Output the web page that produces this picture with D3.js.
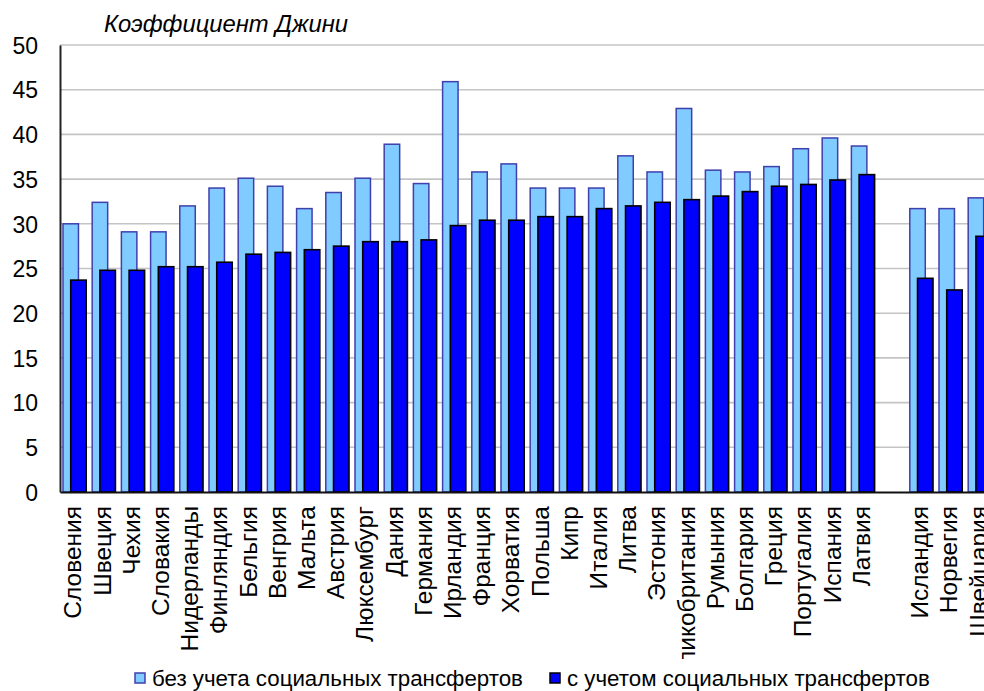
<!DOCTYPE html>
<html>
<head>
<meta charset="utf-8">
<script src="https://cdn.jsdelivr.net/npm/d3@7"></script>
<style>
  body { margin: 0; background: #fff; }
  text { font-family: "Liberation Sans", Arial, sans-serif; fill: #000; }
</style>
</head>
<body>
<svg id="chart" width="984" height="691"></svg>
<script>
// страны ЕС (по возрастанию коэффициента с учетом трансфертов)
const euCountries = ["Словения", "Швеция", "Чехия", "Словакия", "Нидерланды", "Финляндия",
    "Бельгия", "Венгрия", "Мальта", "Австрия", "Люксембург", "Дания", "Германия", "Ирландия",
    "Франция", "Хорватия", "Польша", "Кипр", "Италия", "Литва", "Эстония", "Великобритания",
    "Румыния", "Болгария", "Греция", "Португалия", "Испания", "Латвия"]
// страны вне ЕС, отделены пустым местом
const otherCountries = ["Исландия", "Норвегия", "Швейцария"]

// без учета социальных трансфертов
const beforeEU = [30.0, 32.4, 29.1, 29.1, 32.0, 34.0, 35.1, 34.2, 31.7, 33.5, 35.1, 38.9, 34.5, 45.9,
    35.8, 36.7, 34.0, 34.0, 34.0, 37.6, 35.8, 42.9, 36.0, 35.8, 36.4, 38.4, 39.6, 38.7]
const beforeOther = [31.7, 31.7, 32.9]
// с учетом социальных трансфертов
const afterEU = [23.7, 24.8, 24.8, 25.2, 25.2, 25.7, 26.6, 26.8, 27.1, 27.5, 28.0, 28.0, 28.2, 29.8,
    30.4, 30.4, 30.8, 30.8, 31.7, 32.0, 32.4, 32.7, 33.1, 33.6, 34.2, 34.4, 34.9, 35.5]
const afterOther = [23.9, 22.6, 28.6]

const yTicks = [0, 5, 10, 15, 20, 25, 30, 35, 40, 45, 50]
const seriesNames = ["без учета социальных трансфертов", "с учетом социальных трансфертов"]

// собираем строки для отрисовки
const GAP = "__gap"
const rows = euCountries.map((c, i) => ({ name: c, before: beforeEU[i], after: afterEU[i] }))
    .concat(otherCountries.map((c, i) => ({ name: c, before: beforeOther[i], after: afterOther[i] })))
const domain = euCountries.concat([GAP], otherCountries)

const svg = d3.select("#chart")
const plotLeft = 60, plotTop = 45, plotBottom = 492
const slot = 29.2

const x = d3.scaleBand()
    .domain(domain)
    .range([plotLeft, plotLeft + domain.length * slot])
    .padding(0)

const y = d3.scaleLinear()
    .domain([0, 50])
    .range([plotBottom, plotTop])

// сетка
svg.append("g")
    .selectAll("line")
    .data(yTicks.filter(d => d > 0))
    .join("line")
    .attr("x1", plotLeft).attr("x2", 984)
    .attr("y1", d => y(d)).attr("y2", d => y(d))
    .attr("stroke", "#c4c4c4")
    .attr("stroke-width", 1.6)

// столбики
const bw = x.bandwidth()
const barW = bw * 0.53
const start = (bw - 1.5 * barW) / 2

svg.append("g")
    .selectAll("rect")
    .data(rows)
    .join("rect")
    .attr("x", d => x(d.name) + start)
    .attr("y", d => y(d.before))
    .attr("width", barW)
    .attr("height", d => y(0) - y(d.before))
    .attr("fill", "#80cbff")
    .attr("stroke", "#3f3fae")
    .attr("stroke-width", 1.5)

svg.append("g")
    .selectAll("rect")
    .data(rows)
    .join("rect")
    .attr("x", d => x(d.name) + start + barW * 0.5)
    .attr("y", d => y(d.after))
    .attr("width", barW)
    .attr("height", d => y(0) - y(d.after))
    .attr("fill", "#0000ff")
    .attr("stroke", "#000")
    .attr("stroke-width", 1.6)

// ось Y
const yAxis = svg.append("g")
    .attr("transform", `translate(${plotLeft},0)`)
    .call(d3.axisLeft(y).tickValues(yTicks).tickSize(0).tickPadding(22))
yAxis.select(".domain").attr("stroke", "#222").attr("stroke-width", 2)
yAxis.selectAll("text")
    .style("font-size", "23px")
    .attr("dy", "0.36em")

// ось X, подписи повернуты и обрезаны снизу (как в оригинале)
svg.append("defs").append("clipPath").attr("id", "labelClip")
    .append("rect").attr("x", 0).attr("y", 0).attr("width", 984).attr("height", 659)

const xWrap = svg.append("g").attr("clip-path", "url(#labelClip)")
const xAxis = xWrap.append("g")
    .attr("transform", `translate(0,${plotBottom})`)
    .call(d3.axisBottom(x).tickSize(0).tickFormat(d => d === GAP ? "" : d))
xAxis.select(".domain").attr("stroke", "#111").attr("stroke-width", 2)
xAxis.selectAll("text")
    .style("font-size", "24.5px")
    .style("text-anchor", "end")
    .attr("transform", "rotate(-90)")
    .attr("x", -14)
    .attr("y", -2)
    .attr("dy", "0.36em")

// заголовок
svg.append("text")
    .attr("x", 104)
    .attr("y", 32)
    .style("font-size", "23.8px")
    .style("font-style", "italic")
    .text("Коэффициент Джини")

// легенда
const legend = svg.append("g")
const legendItems = [
    { name: seriesNames[0], x: 135, fill: "#80cbff", stroke: "#3f3fae" },
    { name: seriesNames[1], x: 550, fill: "#0000ff", stroke: "#000" }
]
legendItems.forEach(it => {
    legend.append("rect")
        .attr("x", it.x).attr("y", 673)
        .attr("width", 10).attr("height", 10)
        .attr("fill", it.fill)
        .attr("stroke", it.stroke)
        .attr("stroke-width", 1.5)
    legend.append("text")
        .attr("x", it.x + 17)
        .attr("y", 686)
        .style("font-size", "22.3px")
        .text(it.name)
})
</script>
</body>
</html>
